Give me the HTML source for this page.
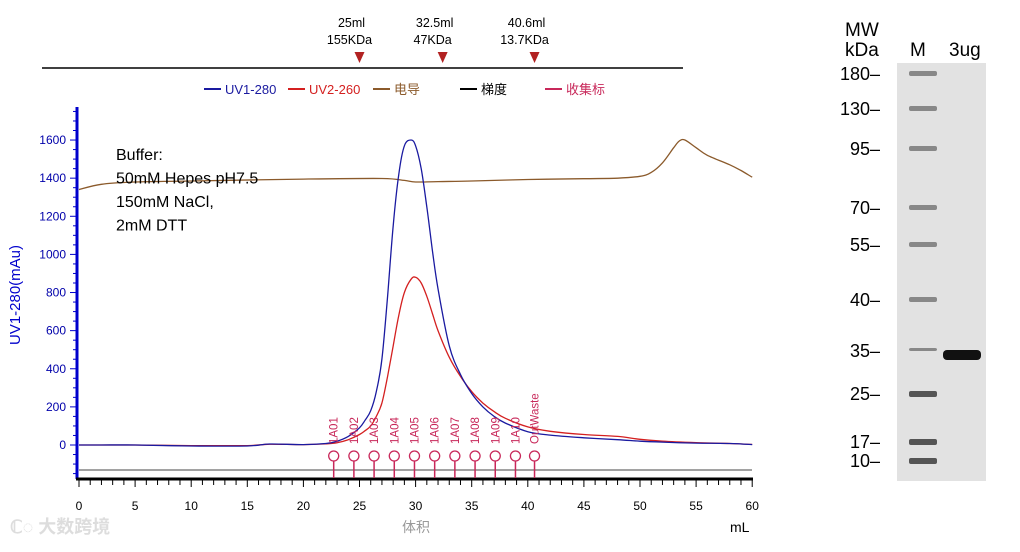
<!DOCTYPE html>
<html><head><meta charset="utf-8"><style>
body{margin:0;background:#fff;width:1020px;height:547px;overflow:hidden}
svg{font-family:"Liberation Sans","Noto Sans CJK SC",sans-serif}
</style></head><body>
<svg id="c" width="1020" height="547"></svg>
<script>
const xVol=[0,2,5,10,15,17,20,22,23,24,25,25.5,26,26.5,27,27.5,28,28.5,29,29.6,30,30.5,31,31.5,32,33,34,35,36,37,38,40,42,45,48,50,52,55,58,60];
const uv280=[0,0,0,-5,-5,5,2,8,20,45,90,130,180,280,450,780,1150,1420,1570,1600,1570,1450,1250,1020,820,520,370,270,200,150,115,70,52,38,28,20,15,10,8,2];
const uv260=[0,0,0,-3,-3,4,2,6,12,28,55,75,100,150,220,360,520,680,800,870,880,850,780,690,600,460,360,280,220,175,140,95,72,55,45,30,20,12,8,3];
const condX=[0,2,5,10,20,27,29,30,32,35,40,45,48,50,51,52,53,53.5,54,55,56,58,59,60];
const condY=[1340,1368,1380,1385,1395,1398,1388,1380,1382,1385,1393,1397,1400,1410,1430,1480,1560,1595,1600,1560,1520,1470,1440,1405];
const fracLabels=["1A01","1A02","1A03","1A04","1A05","1A06","1A07","1A08","1A09","1A10","OutWaste"];
const fracVol=[22.7,24.5,26.3,28.1,29.9,31.7,33.5,35.3,37.1,38.9,40.6];
const yTicks=[0,200,400,600,800,1000,1200,1400,1600];
const xTicks=[0,5,10,15,20,25,30,35,40,45,50,55,60];
const markerVol=[25,32.5,40.6];
const markerL1=["25ml","32.5ml","40.6ml"];
const markerL2=["155KDa","47KDa","13.7KDa"];
const gelLabels=["180","130","95","70","55","40","35","25","17","10"];
const gelY=[74,109,149,208,245,300,351,394,442,461];

const X=v=>79+v*11.22, Y=v=>445-v*0.1906;
const S=document.getElementById('c'),NS='http://www.w3.org/2000/svg';
function mk(t,a,txt){const e=document.createElementNS(NS,t);for(const k in a)e.setAttribute(k,a[k]);if(txt!=null)e.textContent=txt;S.appendChild(e);return e;}
let e;
e=mk('line',{x1:42,y1:68,x2:683,y2:68,stroke:'#000','stroke-width':1.5});

markerVol.forEach((v,i)=>{const x=X(v)+(i==1?-1:0);
 e=mk('path',{d:`M${x-5},${52}L${x+5},${52}L${x},${63}Z`,fill:'#b22222'});
 
 e=mk('text',{x:x-8,y:27,'font-size':12.5,'text-anchor':'middle'},markerL1[i]);
 
 e=mk('text',{x:x-10,y:44,'font-size':12.5,'text-anchor':'middle'},markerL2[i]);
 
});
const leg=[["UV1-280","#1a1aa0",204],["UV2-260","#d42020",288],["电导","#8b5a2b",373],["梯度","#000",460],["收集标","#c8285a",545]];
leg.forEach(l=>{e=mk('line',{x1:l[2],y1:89,x2:l[2]+17,y2:89,stroke:l[1],'stroke-width':2});
 
 e=mk('text',{x:l[2]+21,y:94,'font-size':13,fill:l[1]},l[0]);
 });
e=mk('line',{x1:77,y1:107,x2:77,y2:479,stroke:'#0000cc','stroke-width':3});

for(let v=-150;v<=1750;v+=50){e=mk('line',{x1:v%200==0?70:73,y1:Y(v),x2:77,y2:Y(v),stroke:'#0000cc','stroke-width':1});
 }
yTicks.forEach(v=>{e=mk('text',{x:66,y:Y(v)+4,'font-size':12,fill:'#0000aa','text-anchor':'end'},v);
 });
e=mk('text',{x:20,y:295,'font-size':15,fill:'#0000cc','text-anchor':'middle',transform:'rotate(-90 20 295)'},'UV1-280(mAu)');

e=mk('line',{x1:76,y1:479,x2:753,y2:479,stroke:'#000','stroke-width':3});

for(let v=0;v<=60;v++){e=mk('line',{x1:X(v),y1:480,x2:X(v),y2:v%5==0?487:485,stroke:'#000'});
 }
xTicks.forEach(v=>{e=mk('text',{x:X(v),y:510,'font-size':12,'text-anchor':'middle'},v);
 });
e=mk('text',{x:416,y:532,'font-size':14,fill:'#999','text-anchor':'middle'},'体积');

e=mk('text',{x:730,y:532,'font-size':14},'mL');

e=mk('line',{x1:79,y1:470,x2:752,y2:470,stroke:'#444','stroke-width':1});

function line(xs,ys,col,name){const p=xs.map((v,i)=>[X(v),Y(ys[i])]);
 let d='M'+p[0][0].toFixed(1)+','+p[0][1].toFixed(1);
 for(let i=0;i<p.length-1;i++){const p0=p[Math.max(0,i-1)],p1=p[i],p2=p[i+1],p3=p[Math.min(p.length-1,i+2)];
  const c1=[p1[0]+(p2[0]-p0[0])/6,p1[1]+(p2[1]-p0[1])/6],c2=[p2[0]-(p3[0]-p1[0])/6,p2[1]-(p3[1]-p1[1])/6];
  d+=`C${c1[0].toFixed(1)},${c1[1].toFixed(1)} ${c2[0].toFixed(1)},${c2[1].toFixed(1)} ${p2[0].toFixed(1)},${p2[1].toFixed(1)}`;}
 e=mk('path',{d,fill:'none',stroke:col,'stroke-width':1.3});}
line(condX,condY,'#8b5a2b','conductivity-line');
line(xVol,uv260,'#d42020','uv260-line');
line(xVol,uv280,'#1a1aa0','uv280-line');
fracVol.forEach((v,i)=>{const x=X(v);
 e=mk('line',{x1:x,y1:461,x2:x,y2:478,stroke:'#c8285a','stroke-width':1.5});
 
 e=mk('circle',{cx:x,cy:456,r:5,fill:'#fff',stroke:'#c8285a','stroke-width':1.3});
 
 e=mk('text',{x:x+4,y:444,'font-size':11.5,fill:'#c8285a',transform:`rotate(-90 ${x+4} 444)`},fracLabels[i]);
 });
["Buffer:","50mM Hepes pH7.5","150mM NaCl,","2mM DTT"].forEach((t,i)=>{e=mk('text',{x:116,y:160+i*23.5,'font-size':16},t);
 });
e=mk('text',{x:10,y:533,'font-size':18,fill:'#ddd','font-weight':'bold'},'ℂ◌ 大数跨境');

e=mk('rect',{x:897,y:63,width:89,height:418,fill:'#e2e2e2'});

e=mk('text',{x:845,y:36,'font-size':19},'MW');
e=mk('text',{x:845,y:56,'font-size':19},'kDa');
e=mk('text',{x:910,y:56,'font-size':19},'M');
e=mk('text',{x:949,y:56,'font-size':19},'3ug');
gelLabels.forEach((t,i)=>{const y=gelY[i];
 e=mk('text',{x:880,y:y+6,'font-size':18,'text-anchor':'end'},t+'–');
 
 e=mk('rect',{x:909,y:y-3,width:28,height:i==6?3:(i>=7?6:5),fill:i>=7?'#555':'#888',rx:2});
 });
e=mk('rect',{x:943,y:350,width:38,height:10,fill:'#111',rx:4});

</script>
</body></html>
